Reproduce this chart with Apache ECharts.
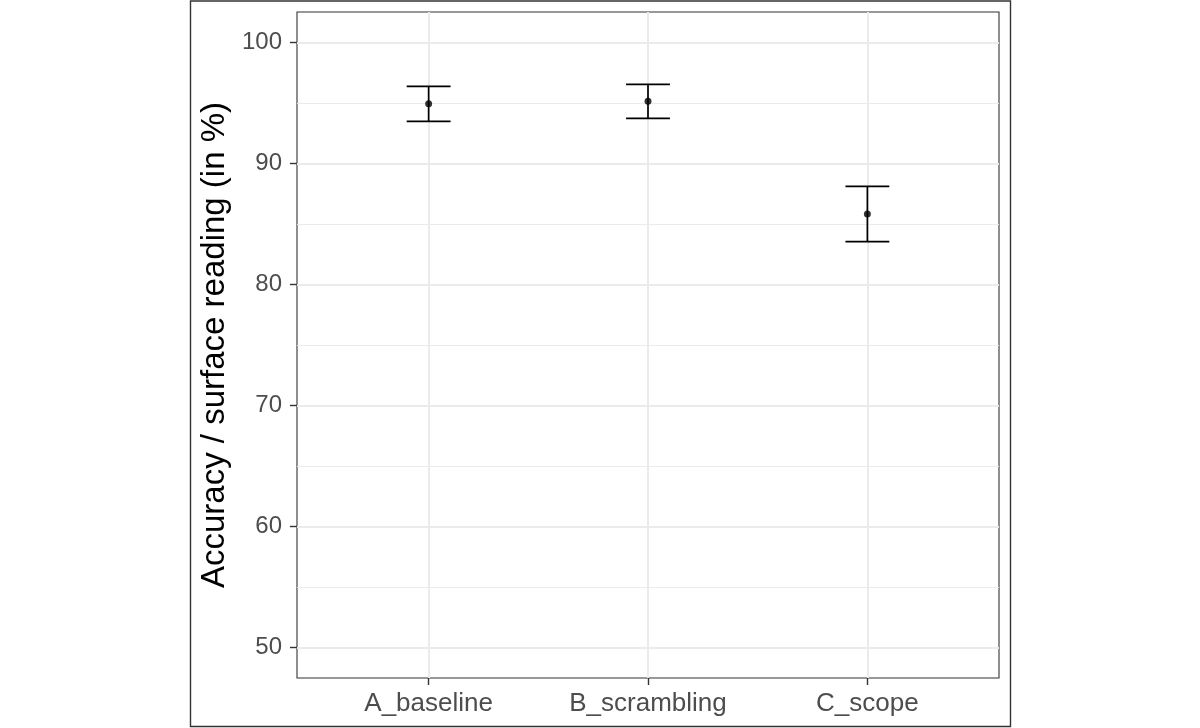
<!DOCTYPE html>
<html>
<head>
<meta charset="utf-8">
<script src="https://cdn.jsdelivr.net/npm/echarts@6/dist/echarts.min.js"></script>
<style>html,body{margin:0;padding:0;background:#fff;}#c{width:1200px;height:728px;}</style>
</head>
<body>
<div id="c"></div>
<script>
var categories = ['A_baseline', 'B_scrambling', 'C_scope'];
var meanValues = [94.93, 95.12, 85.82];
var lowerValues = [93.47, 93.72, 83.53];
var upperValues = [96.36, 96.53, 88.10];
var yMajorTicks = [50, 60, 70, 80, 90, 100];
var yMinorTicks = [55, 65, 75, 85, 95];

var chart = echarts.init(document.getElementById('c'), null, {renderer: 'canvas'});
var xPos = categories.map(function (c, i) { return i + 1; });
var pointData = xPos.map(function (x, i) { return [x, meanValues[i]]; });
var errData = xPos.map(function (x, i) { return [x, lowerValues[i], upperValues[i]]; });
var FONT = '"Liberation Sans", Arial, sans-serif';
var grid = {left: 297, right: 201, top: 12, bottom: 50, show: true, borderColor: '#333333', borderWidth: 1.1, backgroundColor: 'transparent'};

chart.setOption({
  animation: false,
  backgroundColor: '#ffffff',
  graphic: [{
    type: 'rect', z: -10, silent: true,
    shape: {x: 190.5, y: 1, width: 820, height: 725.5},
    style: {fill: 'none', stroke: '#333333', lineWidth: 1.4}
  }],
  grid: [grid],
  xAxis: [{
    type: 'value', min: 0.4, max: 3.6,
    axisLine: {show: false},
    axisTick: {show: true, length: 7, lineStyle: {color: '#333333', width: 1.4}, customValues: xPos},
    axisLabel: {customValues: xPos, margin: 13, color: '#4d4d4d', fontSize: 26, fontFamily: FONT,
      formatter: function (v) { return categories[Math.round(v) - 1] || ''; }},
    splitLine: {show: true, lineStyle: {color: '#ebebeb', width: 2}}
  }],
  yAxis: [{
    type: 'value', min: 47.5, max: 102.5,
    name: 'Accuracy / surface reading (in %)', nameLocation: 'middle', nameGap: 65,
    nameTextStyle: {color: '#000000', fontSize: 33, fontFamily: FONT},
    axisLine: {show: false},
    axisTick: {show: true, length: 7, lineStyle: {color: '#333333', width: 1.4}, customValues: yMajorTicks},
    axisLabel: {customValues: yMajorTicks, margin: 15, color: '#4d4d4d', fontSize: 24, fontFamily: FONT},
    splitLine: {show: true, lineStyle: {color: '#ebebeb', width: 2}}
  }, {
    type: 'value', min: 47.5, max: 102.5, position: 'left',
    axisLine: {show: false},
    axisTick: {show: false, customValues: yMinorTicks},
    axisLabel: {show: false, customValues: yMinorTicks},
    splitLine: {show: true, lineStyle: {color: '#ebebeb', width: 1}}
  }],
  series: [{
    type: 'custom',
    xAxisIndex: 0, yAxisIndex: 0,
    data: errData,
    z: 3,
    renderItem: function (params, api) {
      var x = api.value(0), lo = api.value(1), hi = api.value(2);
      var pLo = api.coord([x, lo]), pHi = api.coord([x, hi]);
      var lL = api.coord([x - 0.1, lo]), lR = api.coord([x + 0.1, lo]);
      var hL = api.coord([x - 0.1, hi]), hR = api.coord([x + 0.1, hi]);
      var st = {stroke: '#000000', lineWidth: 1.7, fill: 'none'};
      return {type: 'group', children: [
        {type: 'line', shape: {x1: pLo[0], y1: pLo[1], x2: pHi[0], y2: pHi[1]}, style: st},
        {type: 'line', shape: {x1: lL[0], y1: lL[1], x2: lR[0], y2: lR[1]}, style: st},
        {type: 'line', shape: {x1: hL[0], y1: hL[1], x2: hR[0], y2: hR[1]}, style: st}
      ]};
    }
  }, {
    type: 'scatter',
    xAxisIndex: 0, yAxisIndex: 0,
    data: pointData,
    symbol: 'circle', symbolSize: 7,
    itemStyle: {color: '#000000'},
    z: 4
  }]
});
</script>
</body>
</html>
